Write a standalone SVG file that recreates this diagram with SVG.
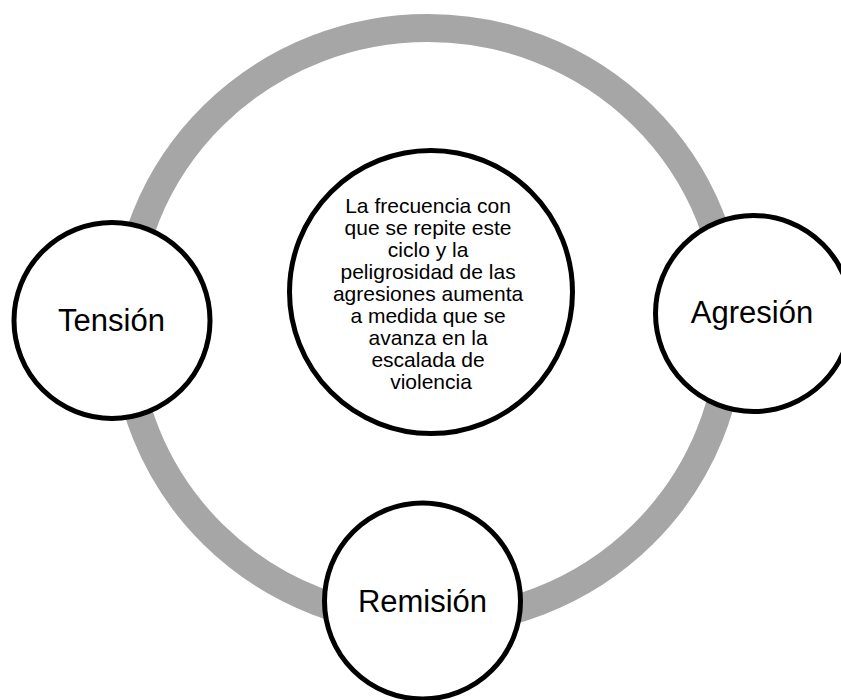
<svg xmlns="http://www.w3.org/2000/svg" width="841" height="700" viewBox="0 0 841 700">
  <style>
    .node { fill: #ffffff; stroke: #000000; stroke-width: 5; }
    .label { font-family: "Liberation Sans", Arial, sans-serif; font-size: 31px; fill: #000000; text-anchor: middle; }
    .body { font-family: "Liberation Sans", Arial, sans-serif; font-size: 21px; fill: #000000; text-anchor: middle; }
    .ring { fill: none; stroke: #a6a6a6; stroke-width: 28; }
  </style>
  <rect x="0" y="0" width="841" height="700" fill="#ffffff"/>
  <g id="connectors">
    <ellipse class="ring" cx="428" cy="325" rx="303" ry="297"/>
  </g>
  <g id="center-node">
    <circle class="node" cx="431" cy="292" r="141.5"/>
    <text class="body" x="431">
      <tspan x="431" y="213">La frecuencia con</tspan>
      <tspan x="431" y="235">que se repite este</tspan>
      <tspan x="431" y="257">ciclo y la</tspan>
      <tspan x="431" y="279">peligrosidad de las</tspan>
      <tspan x="431" y="301">agresiones aumenta</tspan>
      <tspan x="431" y="323">a medida que se</tspan>
      <tspan x="431" y="345">avanza en la</tspan>
      <tspan x="431" y="367">escalada de</tspan>
      <tspan x="431" y="389">violencia</tspan>
    </text>
  </g>
  <g id="node-tension">
    <circle class="node" cx="112" cy="320.5" r="98"/>
    <text class="label" x="111.5" y="331">Tensión</text>
  </g>
  <g id="node-agresion">
    <circle class="node" cx="753.5" cy="313.5" r="98"/>
    <text class="label" x="752" y="323">Agresión</text>
  </g>
  <g id="node-remision">
    <circle class="node" cx="422.5" cy="601" r="98"/>
    <text class="label" x="422.5" y="612">Remisión</text>
  </g>
</svg>
